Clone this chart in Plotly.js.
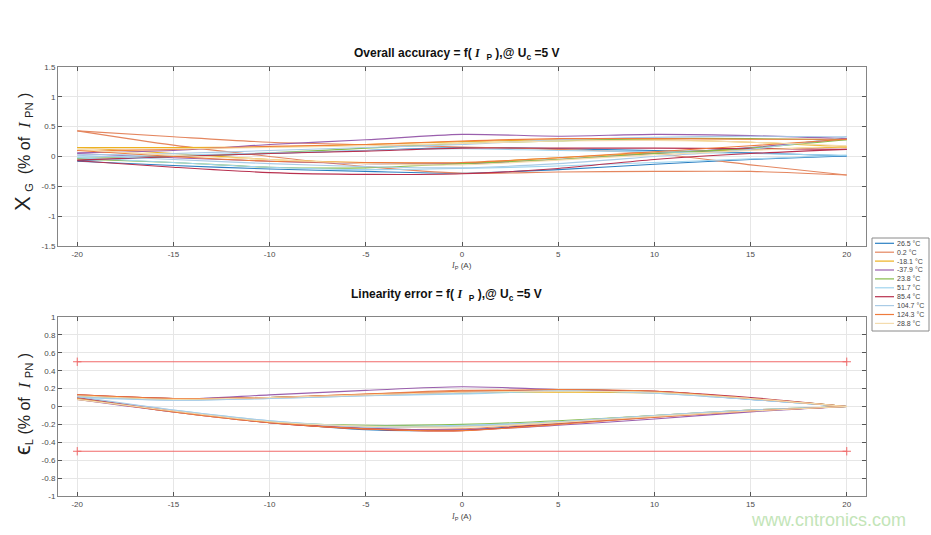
<!DOCTYPE html>
<html><head><meta charset="utf-8">
<script src="https://cdn.plot.ly/plotly-3.0.1.min.js"></script>
<style>html,body{margin:0;padding:0;background:#fff}#plot{width:931px;height:535px}</style>
</head><body><div id="plot"></div>
<script>
// ---------- DATA ----------
const xPts = [-20, -15, -10, -5, 0, 5, 10, 15, 20];
const temps = ['26.5 °C', '0.2 °C', '-18.1 °C', '-37.9 °C', '23.8 °C', '51.7 °C', '85.4 °C', '104.7 °C', '124.3 °C', '28.8 °C'];
const colors = ['#2b7fc2', '#e4865f', '#edb120', '#9a5fad', '#86bb4a', '#9fd4ee', '#b8304f', '#a9cbe6', '#ef7b3c', '#f4dcae'];

// Overall accuracy (%), forward sweep (-20 -> 20) and return sweep (listed -20 -> 20)
const accFwd = [
  [-0.08, -0.15, -0.21, -0.25, -0.28, -0.22, -0.13, -0.05, 0.01],
  [0.43, 0.19, 0.00, -0.17, -0.28, -0.26, -0.25, -0.25, -0.31],
  [0.15, 0.05, -0.05, -0.10, -0.11, -0.02, 0.06, 0.12, 0.16],
  [0.05, -0.02, -0.08, -0.12, -0.12, -0.05, 0.05, 0.15, 0.30],
  [-0.04, -0.10, -0.18, -0.19, -0.12, -0.05, 0.05, 0.14, 0.28],
  [-0.02, -0.10, -0.18, -0.22, -0.20, -0.16, -0.10, -0.04, 0.02],
  [-0.07, -0.18, -0.27, -0.30, -0.29, -0.20, -0.05, 0.05, 0.12],
  [0.02, -0.05, -0.12, -0.17, -0.19, -0.12, 0.00, 0.12, 0.33],
  [0.10, 0.00, -0.08, -0.10, -0.10, -0.02, 0.08, 0.18, 0.29],
  [0.12, 0.02, -0.05, -0.12, -0.14, -0.06, 0.03, 0.10, 0.18]
];
const accRet = [
  [-0.07, 0.00, 0.05, 0.10, 0.15, 0.13, 0.10, 0.06, 0.01],
  [0.43, 0.33, 0.24, 0.20, 0.16, 0.12, 0.05, -0.14, -0.31],
  [0.15, 0.15, 0.16, 0.20, 0.25, 0.28, 0.28, 0.24, 0.16],
  [0.06, 0.10, 0.20, 0.28, 0.37, 0.34, 0.37, 0.35, 0.30],
  [-0.03, 0.00, 0.06, 0.14, 0.22, 0.26, 0.30, 0.30, 0.28],
  [-0.01, 0.02, 0.06, 0.10, 0.13, 0.10, 0.08, 0.05, 0.02],
  [-0.06, 0.00, 0.05, 0.09, 0.14, 0.14, 0.14, 0.13, 0.12],
  [0.03, 0.05, 0.10, 0.15, 0.20, 0.28, 0.32, 0.34, 0.33],
  [0.10, 0.12, 0.17, 0.20, 0.26, 0.30, 0.30, 0.29, 0.29],
  [0.13, 0.13, 0.15, 0.18, 0.22, 0.26, 0.27, 0.24, 0.18]
];

// Linearity error (%)
const linFwd = [
  [0.10, -0.05, -0.17, -0.26, -0.26, -0.19, -0.11, -0.05, 0.00],
  [0.09, -0.06, -0.18, -0.25, -0.25, -0.18, -0.11, -0.05, 0.00],
  [0.08, -0.05, -0.17, -0.22, -0.22, -0.17, -0.10, -0.04, 0.00],
  [0.08, -0.06, -0.18, -0.24, -0.26, -0.21, -0.14, -0.06, 0.00],
  [0.09, -0.05, -0.17, -0.21, -0.20, -0.16, -0.10, -0.04, 0.00],
  [0.10, -0.04, -0.16, -0.22, -0.21, -0.17, -0.10, -0.04, 0.00],
  [0.10, -0.05, -0.18, -0.25, -0.27, -0.19, -0.12, -0.05, 0.00],
  [0.11, -0.04, -0.16, -0.23, -0.22, -0.17, -0.10, -0.04, 0.00],
  [0.09, -0.06, -0.18, -0.25, -0.27, -0.20, -0.12, -0.05, 0.00],
  [0.08, -0.05, -0.17, -0.22, -0.23, -0.18, -0.11, -0.05, 0.00]
];
const linRet = [
  [0.12, 0.09, 0.10, 0.13, 0.15, 0.19, 0.16, 0.08, 0.00],
  [0.13, 0.09, 0.10, 0.14, 0.18, 0.18, 0.17, 0.09, 0.00],
  [0.12, 0.08, 0.10, 0.13, 0.16, 0.16, 0.15, 0.09, 0.00],
  [0.12, 0.08, 0.13, 0.18, 0.22, 0.19, 0.17, 0.09, 0.00],
  [0.11, 0.08, 0.10, 0.13, 0.15, 0.17, 0.16, 0.09, 0.00],
  [0.10, 0.07, 0.09, 0.12, 0.14, 0.17, 0.15, 0.08, 0.00],
  [0.13, 0.09, 0.10, 0.13, 0.16, 0.18, 0.17, 0.10, 0.00],
  [0.11, 0.07, 0.09, 0.12, 0.15, 0.18, 0.15, 0.08, 0.00],
  [0.13, 0.09, 0.10, 0.14, 0.17, 0.19, 0.17, 0.09, 0.00],
  [0.12, 0.08, 0.10, 0.13, 0.16, 0.17, 0.16, 0.09, 0.00]
];

const limitX = [-20, 20];
const limitUpper = [0.5, 0.5];
const limitLower = [-0.5, -0.5];

const xTicks = [-20, -15, -10, -5, 0, 5, 10, 15, 20];
const xTickText = ['-20', '-15', '-10', '-5', '0', '5', '10', '15', '20'];
const yTicksTop = [-1.5, -1, -0.5, 0, 0.5, 1, 1.5];
const yTickTextTop = ['-1.5', '-1', '-0.5', '0', '0.5', '1', '1.5'];
const yTicksBot = [-1, -0.8, -0.6, -0.4, -0.2, 0, 0.2, 0.4, 0.6, 0.8, 1];
const yTickTextBot = ['-1', '-0.8', '-0.6', '-0.4', '-0.2', '0', '0.2', '0.4', '0.6', '0.8', '1'];

// ---------- BUILD ----------
const W = 931, H = 535;
const px = x => x / W;
const py = y => 1 - y / H;

const traces = [];
function addBranches(fwd, ret, xa, ya) {
  temps.forEach((t, i) => {
    [fwd[i], ret[i]].forEach(yv => {
      traces.push({
        x: xPts, y: yv, xaxis: xa, yaxis: ya, mode: 'lines', name: t, showlegend: false,
        line: {color: colors[i], width: 1.1, shape: 'spline', smoothing: 0.8}
      });
    });
  });
}
addBranches(accFwd, accRet, 'x', 'y');
addBranches(linFwd, linRet, 'x2', 'y2');
[limitUpper, limitLower].forEach(ly => {
  traces.push({
    x: limitX, y: ly, xaxis: 'x2', yaxis: 'y2', mode: 'lines+markers', showlegend: false,
    line: {color: '#f06a6a', width: 1.1},
    marker: {symbol: 'cross-thin-open', size: 6, color: '#f06a6a', line: {color: '#f06a6a', width: 1}}
  });
});

const axBase = {
  showline: true, linecolor: '#858585', linewidth: 1, mirror: 'ticks',
  ticks: 'inside', ticklen: 4, tickcolor: '#555', tickwidth: 1,
  showgrid: true, gridcolor: '#e6e6e6', gridwidth: 1, zeroline: false,
  tickfont: {family: 'Liberation Sans, Arial, sans-serif', size: 8, color: '#4a4a4a'},
  tickmode: 'array', fixedrange: true
};

const xDom = [px(58), px(866)];
const layout = {
  width: W, height: H, margin: {l: 0, r: 0, t: 0, b: 0},
  paper_bgcolor: '#fff', plot_bgcolor: '#fff', showlegend: false,
  font: {family: 'Liberation Sans, Arial, sans-serif'},
  xaxis: Object.assign({}, axBase, {domain: xDom, range: [-21, 21], tickvals: xTicks, ticktext: xTickText, anchor: 'y'}),
  yaxis: Object.assign({}, axBase, {domain: [py(246), py(67)], range: [-1.5, 1.5], tickvals: yTicksTop, ticktext: yTickTextTop, anchor: 'x'}),
  xaxis2: Object.assign({}, axBase, {domain: xDom, range: [-21, 21], tickvals: xTicks, ticktext: xTickText, anchor: 'y2'}),
  yaxis2: Object.assign({}, axBase, {domain: [py(496), py(317)], range: [-1, 1], tickvals: yTicksBot, ticktext: yTickTextBot, anchor: 'x2'}),
  shapes: [], annotations: []
};

const serifI = "<span style=\"font-family:Liberation Serif\"><i>I</i></span>";
const serifIb = "<span style=\"font-family:Liberation Serif\"><b><i>I</i></b></span>";
const ann = (x, y, text, opts) => Object.assign({
  xref: 'paper', yref: 'paper', x: px(x), y: py(y), text: text, showarrow: false,
  xanchor: 'center', yanchor: 'middle'
}, opts || {});

layout.annotations.push(ann(456, 54, '<b>Overall accuracy = f( ' + serifIb + '  <sub>P</sub> ),@ U<sub>c</sub> =5 V</b>', {font: {size: 12, color: '#111'}}));
layout.annotations.push(ann(446, 295, '<b>Linearity error = f( ' + serifIb + '  <sub>P</sub> ),@ U<sub>c</sub> =5 V</b>', {font: {size: 12, color: '#111'}}));
layout.annotations.push(ann(461, 266, serifI + '<sub>P</sub> (A)', {font: {size: 8, color: '#444'}}));
layout.annotations.push(ann(461, 517, serifI + '<sub>P</sub> (A)', {font: {size: 8, color: '#444'}}));
layout.annotations.push(ann(22, 152, "<span style=\"font-size:22px\">X</span> <sub>G</sub>  (% of  " + "<span style=\"font-family:Liberation Serif;font-size:17px\"><i>I</i></span> <sub>PN</sub> )", {textangle: -90, font: {size: 16, color: '#222'}}));
layout.annotations.push(ann(22, 404, "<span style=\"font-size:22px\">ϵ</span><sub>L</sub> (% of  " + "<span style=\"font-family:Liberation Serif;font-size:17px\"><i>I</i></span> <sub>PN</sub> )", {textangle: -90, font: {size: 16, color: '#222'}}));
layout.annotations.push(ann(828, 520, 'www.cntronics.com', {font: {size: 18, color: '#c3e5b8'}}));

// custom compact legend
layout.shapes.push({type: 'rect', xref: 'paper', yref: 'paper', x0: px(872), x1: px(929), y0: py(331), y1: py(238),
  line: {color: '#8a8a8a', width: 1}, fillcolor: '#fff'});
temps.forEach((t, i) => {
  const yy = 243.3 + i * 8.9;
  layout.shapes.push({type: 'line', xref: 'paper', yref: 'paper', x0: px(875), x1: px(894), y0: py(yy), y1: py(yy),
    line: {color: colors[i], width: 1.2}});
  layout.annotations.push(ann(895, yy, t, {xanchor: 'left', font: {size: 7, color: '#444'}}));
});

Plotly.newPlot('plot', traces, layout, {staticPlot: true, displayModeBar: false});
</script></body></html>
